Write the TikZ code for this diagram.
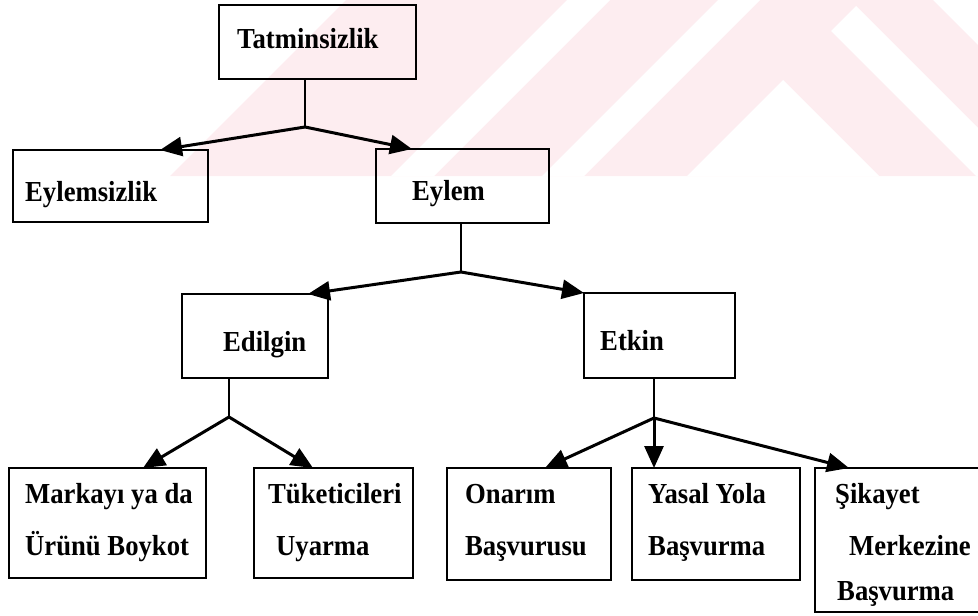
\documentclass[tikz,border=0pt]{standalone}
\usepackage{fontspec}
\setmainfont{Liberation Serif}[FakeStretch=0.92]
\usetikzlibrary{arrows.meta}
\definecolor{wm}{RGB}{253,237,240}
\begin{document}
\begin{tikzpicture}[x=1pt,y=-1pt,
  box/.style={draw, line width=2pt, inner sep=0pt, outer sep=0pt, anchor=north west},
  lbl/.style={anchor=base west, inner sep=0pt, font=\bfseries\fontsize{29}{32}\selectfont},
  stem/.style={line width=2pt},
  arr/.style={line width=3pt, -{Triangle[length=22pt,width=19pt]}}]

\useasboundingbox (0,0) rectangle (978,616);
\clip (0,0) rectangle (978,616);

% faint striped emblem along the top band
\begin{scope}
  \clip (0,0) rectangle (978,176);
  \fill[wm] (346,0) -- (978,0) -- (978,176) -- (170,176) -- cycle;
  \fill[white] (567,0) -- (610,0) -- (434,176) -- (391,176) -- cycle;
  \fill[white] (718,0) -- (760,0) -- (584,176) -- (542,176) -- cycle;
  \fill[white] (831,31) -- (856,6) -- (1026,176) -- (976,176) -- cycle;
  \fill[white] (783,80) -- (879,176) -- (687,176) -- cycle;
  \fill[white] (933,0) -- (1200,0) -- (1200,176) -- (1109,176) -- cycle;
\end{scope}

% boxes
\node[box, minimum width=197, minimum height=74]  (tat) at (219,5)   {};
\node[box, minimum width=195, minimum height=72]  (eyz) at (13,150)  {};
\node[box, minimum width=173, minimum height=74]  (eyl) at (376,149) {};
\node[box, minimum width=146, minimum height=84]  (edi) at (182,294) {};
\node[box, minimum width=151, minimum height=85]  (etk) at (584,293) {};
\node[box, minimum width=197, minimum height=110] (mar) at (9,468)   {};
\node[box, minimum width=159, minimum height=110] (tuk) at (254,468) {};
\node[box, minimum width=164, minimum height=112] (ona) at (447,468) {};
\node[box, minimum width=168, minimum height=112] (yas) at (632,468) {};
\node[box, minimum width=180, minimum height=144] (sik) at (815,468) {};

% labels
\node[lbl] (tatA) at (237,48)  {Tatminsizlik};
\node[lbl] (eyzA) at (25,201)  {Eylemsizlik};
\node[lbl] (eylA) at (412,200) {Eylem};
\node[lbl] (ediA) at (223,351) {Edilgin};
\node[lbl] (etkA) at (600,350) {Etkin};
\node[lbl] (marA) at (25,503)  {Markayı ya da};
\node[lbl] (marB) at (25,555)  {Ürünü Boykot};
\node[lbl] (tukA) at (268,503) {Tüketicileri};
\node[lbl] (tukB) at (276,555) {Uyarma};
\node[lbl] (onaA) at (465,503) {Onarım};
\node[lbl] (onaB) at (465,555) {Başvurusu};
\node[lbl] (yasA) at (648,503) {Yasal Yola};
\node[lbl] (yasB) at (648,555) {Başvurma};
\node[lbl] (sikA) at (835,503) {Şikayet};
\node[lbl] (sikB) at (849,555) {Merkezine};
\node[lbl] (sikC) at (837,600) {Başvurma};

% branch points
\coordinate (j1) at (305,127);
\coordinate (j2) at (461,272);
\coordinate (j3) at (229,417);
\coordinate (j4) at (654,418);

% connectors
\draw[stem] (tat.south -| j1) -- (j1);
\draw[arr] (j1) -- ([xshift=-48pt]eyz.north east);
\draw[arr] (j1) -- ([xshift=36pt]eyl.north west);

\draw[stem] (eyl.south -| j2) -- (j2);
\draw[arr] (j2) -- ([xshift=-20pt]edi.north east);
\draw[arr] (j2) -- (etk.north west);

\draw[stem] (edi.south -| j3) -- (j3);
\draw[arr] (j3) -- ([xshift=-63pt]mar.north east);
\draw[arr] (j3) -- ([xshift=59pt]tuk.north west);

\draw[stem] (etk.south -| j4) -- (j4);
\draw[arr] (j4) -- ([xshift=98pt]ona.north west);
\draw[arr] (j4) -- (yas.north west -| j4);
\draw[arr] (j4) -- ([xshift=34pt]sik.north west);
\end{tikzpicture}
\end{document}
